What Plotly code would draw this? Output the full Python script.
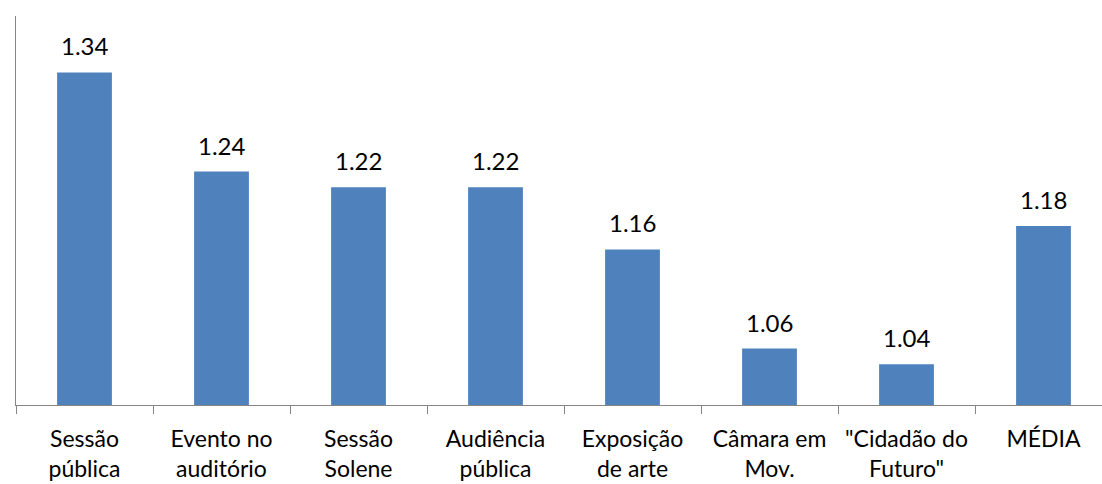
import plotly.graph_objects as go

categories = ["Sessão<br>pública", "Evento no<br>auditório", "Sessão<br>Solene", "Audiência<br>pública",
              "Exposição<br>de arte", "Câmara em<br>Mov.", "\"Cidadão do<br>Futuro\"", "MÉDIA"]
values = [1.342, 1.240, 1.224, 1.224, 1.160, 1.058, 1.042, 1.184]

FONT = "Lato"
AXIS_COLOR = "#868686"

fig = go.Figure(go.Bar(
    x=categories, y=values,
    marker=dict(color="#4F81BD", line=dict(width=0)),
    width=0.40,
    cliponaxis=False,
))

for c, v in zip(categories, values):
    fig.add_annotation(
        x=c, y=v, text=f"{v:.2f}", showarrow=False,
        yanchor="bottom", yshift=10,
        font=dict(family=FONT, size=24, color="#000000"),
    )

fig.update_layout(
    width=1102, height=484,
    margin=dict(l=16, r=0, t=16, b=79, autoexpand=False),
    paper_bgcolor="white", plot_bgcolor="white",
    showlegend=False,
    font=dict(family=FONT, size=23, color="#000000"),
)
fig.update_xaxes(
    range=[-0.5, -0.5 + 1086 / 137], type="category",
    showline=True, linecolor=AXIS_COLOR, linewidth=1,
    ticks="outside", tickson="boundaries", ticklen=8, tickcolor=AXIS_COLOR,
    ticklabelstandoff=13, tickangle=0, automargin=False,
    showgrid=False, tickfont=dict(family=FONT, size=23, color="#000000"),
)
fig.update_yaxes(
    range=[1.0, 1.4], showline=True, linecolor=AXIS_COLOR, linewidth=1,
    showticklabels=False, ticks="", showgrid=False, zeroline=False, automargin=False,
)

fig.write_html("out.html")
